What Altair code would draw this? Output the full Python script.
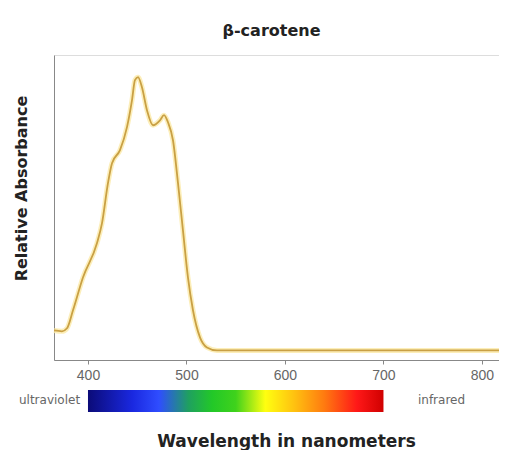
import altair as alt
import pandas as pd

# ---- data ----
wavelength = [365.5, 373.6, 378.7, 384.8, 394.9, 409.1, 414.2, 420.3, 424.4, 432.5,
              439.6, 444.7, 447.7, 450.8, 454.8, 459.9, 466.0, 473.1, 477.2, 481.2,
              486.3, 491.4, 496.4, 501.5, 506.6, 513.7, 520.8, 531.0, 600.0, 700.0, 817.3]
absorbance = [0.073, 0.070, 0.081, 0.147, 0.267, 0.392, 0.465, 0.612, 0.685, 0.733,
              0.817, 0.916, 0.989, 1.000, 0.963, 0.879, 0.824, 0.842, 0.861, 0.835,
              0.769, 0.612, 0.440, 0.267, 0.147, 0.048, 0.011, 0.000, 0.000, 0.000, 0.000]
x_ticks = [400, 500, 600, 700, 800]
visible_start = [400]
visible_end = [700]
uv_label = ["ultraviolet"]
uv_pos = [392]
ir_label = ["infrared"]
ir_pos = [735]
spectrum_colors = ["#0b0b78", "#1a28e0", "#2f4dff", "#1fa060", "#22c828", "#3fd21c",
                   "#ffff10", "#ffc010", "#ff7a10", "#ff1818", "#d00000"]
spectrum_offsets = [0.0, 0.15, 0.24, 0.34, 0.42, 0.5, 0.6, 0.7, 0.8, 0.91, 1.0]

df = pd.DataFrame({"wavelength": wavelength, "absorbance": absorbance})
band = pd.DataFrame({"start": visible_start, "end": visible_end})
uv = pd.DataFrame({"label": uv_label, "pos": uv_pos})
ir = pd.DataFrame({"label": ir_label, "pos": ir_pos})

W, H = 445, 305
xscale = alt.Scale(domain=[365.5, 817.3], nice=False, zero=False)
yscale = alt.Scale(domain=[-0.035, 1.081], nice=False, zero=False)

x_enc = alt.X("wavelength:Q", scale=xscale,
              axis=alt.Axis(values=x_ticks, title="Wavelength in nanometers", grid=False,
                            labelFontSize=14, labelColor="#666", labelFont="Liberation Sans",
                            labelPadding=4, tickSize=4, tickColor="#888", domainColor="#888",
                            titleFontSize=17, titleFontWeight="bold", titleColor="#222",
                            titleFont="DejaVu Sans", titleX=232, titleY=86,
                            titleBaseline="alphabetic", labelFlush=False))
y_enc = alt.Y("absorbance:Q", scale=yscale,
              axis=alt.Axis(title="Relative Absorbance", labels=False, ticks=False, grid=False,
                            domainColor="#888", titleFontSize=16, titleFontWeight="bold",
                            titleColor="#222", titleFont="DejaVu Sans",
                            titleX=-33, titleY=133, titleBaseline="middle"))

halo = alt.Chart(df).mark_line(color="#fbeaa8", strokeWidth=5, interpolate="monotone",
                               opacity=0.8).encode(x=x_enc, y=y_enc)
line = alt.Chart(df).mark_line(color="#c9a044", strokeWidth=1.8,
                               interpolate="monotone").encode(x="wavelength:Q", y="absorbance:Q")

grad = alt.Gradient(
    gradient="linear",
    stops=[alt.GradientStop(offset=o, color=c) for o, c in zip(spectrum_offsets, spectrum_colors)],
    x1=0, x2=1, y1=0, y2=0,
)
spectrum = alt.Chart(band).mark_rect(fill=grad).encode(
    x=alt.X("start:Q", scale=xscale), x2="end:Q",
    y=alt.value(H + 30), y2=alt.value(H + 52),
)
uv_text = alt.Chart(uv).mark_text(align="right", baseline="middle", fontSize=12,
                                  color="#666", font="DejaVu Sans").encode(
    x=alt.X("pos:Q", scale=xscale), y=alt.value(H + 40), text="label:N")
ir_text = alt.Chart(ir).mark_text(align="left", baseline="middle", fontSize=12,
                                  color="#666", font="DejaVu Sans").encode(
    x=alt.X("pos:Q", scale=xscale), y=alt.value(H + 40), text="label:N")

chart = alt.layer(halo, line, spectrum, uv_text, ir_text).properties(
    width=W, height=H,
    title=alt.TitleParams("β-carotene", fontSize=16, fontWeight="bold", color="#222",
                          font="DejaVu Sans", anchor="middle", baseline="alphabetic",
                          offset=3, dx=-5),
    autosize=alt.AutoSizeParams(type="none"),
    padding={"left": 46, "top": 47, "right": 0, "bottom": 90},
).configure_view(stroke="#888", strokeWidth=1.2).configure(background="white")

chart.save("out.html", embed_options={"renderer": "svg", "actions": False})
